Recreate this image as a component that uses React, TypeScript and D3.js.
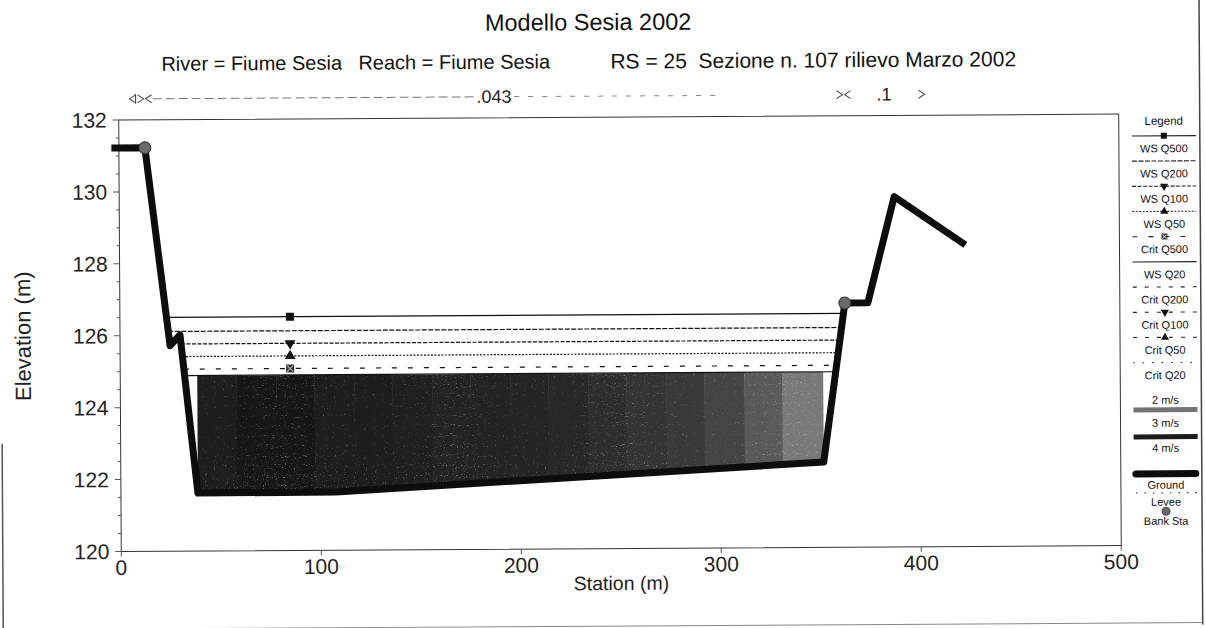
import React from "react";
import * as d3 from "d3";

// ---------- data ----------
const groundStation = [-2, 13, 25, 30, 38.5, 107.5, 351.5, 362.5, 374, 387.5, 421.5];
const groundElev = [131.22, 131.22, 125.72, 126.01, 121.61, 121.62, 122.37, 126.79, 126.79, 129.74, 128.44];
const bankStations = [13, 362.5];
const bankElev = [131.22, 126.79];

const profileNames = ["WS Q500", "WS Q200", "WS Q100", "WS Q50", "Crit Q500", "WS Q20"];
const profileElev = [126.5, 126.11, 125.76, 125.41, 125.06, 124.88];
const markerStation = 85;

const velStations = [28, 38.5, 58, 78, 97, 117, 136, 156, 175, 195, 214, 234, 253, 273, 292, 312, 331, 351.5, 360];
const velValues = [1.5, 3.6, 3.7, 3.7, 3.6, 3.6, 3.55, 3.5, 3.5, 3.45, 3.4, 3.3, 3.2, 3.1, 2.95, 2.75, 2.45, 1.5];

const nStations = [0, 13, 362.5, 403];
const nValues = ["", ".043", ".1"];

const xTicks = [0, 100, 200, 300, 400, 500];
const yTicks = [120, 122, 124, 126, 128, 130, 132];

const legendNames = ["WS Q500", "WS Q200", "WS Q100", "WS Q50", "Crit Q500", "WS Q20", "Crit Q200", "Crit Q100", "Crit Q50", "Crit Q20"];
const velLegendLabels = ["2 m/s", "3 m/s", "4 m/s"];

// ---------- styles ----------
const lineStyle: Record<string, { dash: string; marker: string | null }> = {
  "WS Q500": { dash: "", marker: "square" },
  "WS Q200": { dash: "5 1.5", marker: null },
  "WS Q100": { dash: "4 1.5", marker: "triDown" },
  "WS Q50": { dash: "2 1.5", marker: "tri" },
  "Crit Q500": { dash: "5 11", marker: "hatch" },
  "WS Q20": { dash: "", marker: null },
  "Crit Q200": { dash: "4 8", marker: null },
  "Crit Q100": { dash: "4 8", marker: "triDown" },
  "Crit Q50": { dash: "4 8", marker: "tri" },
  "Crit Q20": { dash: "1.5 8", marker: null },
};

const W = 1205, H = 628;
const PL = 120, PR = 1120, PT = 117, PB = 548.5;
const FONT = "'Liberation Sans', Arial, sans-serif";

const xs = d3.scaleLinear().domain([0, 500]).range([PL, PR]);
const ys = d3.scaleLinear().domain([120, 132]).range([PB, PT]);
const velColor = d3.scaleLinear<string>().domain([2, 3, 4]).range(["#a8a8a8", "#404040", "#050505"]);

function waterExtent(e: number): [number, number] {
  const n = groundElev.length;
  const t = groundElev.indexOf(d3.min(groundElev) as number);
  let left = groundStation[0], right = groundStation[n - 1];
  for (let i = t; i > 0; i--) {
    if (groundElev[i - 1] >= e) {
      const s0 = groundStation[i - 1], s1 = groundStation[i], e0 = groundElev[i - 1], e1 = groundElev[i];
      left = s0 + ((e0 - e) / (e0 - e1)) * (s1 - s0);
      break;
    }
  }
  for (let i = t; i < n - 1; i++) {
    if (groundElev[i + 1] >= e) {
      const s0 = groundStation[i], s1 = groundStation[i + 1], e0 = groundElev[i], e1 = groundElev[i + 1];
      right = s0 + ((e - e0) / (e1 - e0)) * (s1 - s0);
      break;
    }
  }
  return [left, right];
}

function Marker({ kind, x, y, s }: { kind: string | null; x: number; y: number; s: number }) {
  if (!kind) return null;
  if (kind === "square") return <path d={d3.symbol(d3.symbolSquare, s * s)() as string} transform={`translate(${x},${y})`} fill="#111" />;
  if (kind === "tri") return <path d={d3.symbol(d3.symbolTriangle, s * s * 0.8)() as string} transform={`translate(${x},${y})`} fill="#111" />;
  if (kind === "triDown") return <path d={d3.symbol(d3.symbolTriangle, s * s * 0.8)() as string} transform={`translate(${x},${y}) rotate(180)`} fill="#111" />;
  if (kind === "hatch")
    return (
      <g transform={`translate(${x},${y})`}>
        <rect x={-s / 2} y={-s / 2} width={s} height={s} fill="#333" />
        <path d={`M${-s / 2 + 1},${-s / 2 + 1}L${s / 2 - 1},${s / 2 - 1}M${s / 2 - 1},${-s / 2 + 1}L${-s / 2 + 1},${s / 2 - 1}`} stroke="#bbb" strokeWidth={1} />
      </g>
    );
  return null;
}

export default function App() {
  const groundPts: [number, number][] = groundStation.map((s, i) => [xs(s), ys(groundElev[i])]);
  const groundPath = d3.line()(groundPts) as string;

  const wsQ20 = profileElev[profileNames.indexOf("WS Q20")];
  const [wl, wr] = waterExtent(wsQ20);
  const waterPts: [number, number][] = [[xs(wl), ys(wsQ20)], [xs(wr), ys(wsQ20)]];
  for (let i = groundStation.length - 1; i >= 0; i--) {
    if (groundStation[i] > wl && groundStation[i] < wr) waterPts.push([xs(groundStation[i]), ys(groundElev[i])]);
  }
  const waterPath = (d3.line()(waterPts) as string) + "Z";

  const minY = ys(d3.min(groundElev) as number) + 4;

  const nY = 96;
  const chev = (x: number, dir: number) => `M${x - dir * 6},${nY - 4}L${x},${nY}L${x - dir * 6},${nY + 4}`;
  const pre = { whiteSpace: "pre" as const };

  return (
    <svg width={W} height={H} style={{ position: "absolute", left: 0, top: 0 }} fontFamily={FONT}>
      <defs>
        <clipPath id="waterClip">
          <path d={waterPath} />
        </clipPath>
        <filter id="speck" x="0" y="0" width="1" height="1">
          <feTurbulence type="fractalNoise" baseFrequency="0.9" numOctaves="1" seed="4" result="noise" />
          <feColorMatrix in="noise" type="matrix" values="0 0 0 0 1  0 0 0 0 1  0 0 0 0 1  0 0 0 4 -2.25" />
        </filter>
      </defs>
      <rect width={W} height={H} fill="#fff" />
      <g transform="rotate(-0.34 620 335)">
        {/* page edges */}
        <line x1={1201} x2={1201} y1={0} y2={H} stroke="#444" strokeWidth={1.5} />
        <line x1={0} x2={1201} y1={626} y2={626} stroke="#888" strokeWidth={1} />
        <line x1={1.5} x2={1.5} y1={440} y2={H} stroke="#555" strokeWidth={1.5} />

        {/* titles */}
        <text x={590} y={22} textAnchor="middle" dominantBaseline="central" fontSize={23.5} fill="#111">Modello Sesia 2002</text>
        <text x={163} y={61} dominantBaseline="central" fontSize={20} fill="#111" style={pre}>River = Fiume Sesia</text>
        <text x={360} y={61} dominantBaseline="central" fontSize={20} fill="#111" style={pre}>Reach = Fiume Sesia</text>
        <text x={612} y={61} dominantBaseline="central" fontSize={21} fill="#111" style={pre}>RS = 25  Sezione n. 107 rilievo Marzo 2002</text>

        {/* manning n row */}
        <line x1={xs(nStations[1] + 4)} x2={xs((nStations[1] + nStations[2]) / 2 - 10)} y1={nY} y2={nY} stroke="#777" strokeDasharray="9 4" />
        <line x1={xs((nStations[1] + nStations[2]) / 2 + 10)} x2={xs(300)} y1={nY} y2={nY} stroke="#888" strokeDasharray="5 9" />
        <path d={`M${xs(nStations[0]) + 17},${nY - 5}L${xs(nStations[0]) + 17},${nY + 5}`} stroke="#444" />
        <path d={chev(xs(nStations[0]) + 11, -1)} stroke="#444" fill="none" />
        {nStations.slice(1, -1).map((s, i) => (
          <g key={i}>
            <path d={chev(xs(s) - 1, 1)} stroke="#444" fill="none" />
            <path d={chev(xs(s) + 1, -1)} stroke="#444" fill="none" />
          </g>
        ))}
        <path d={chev(xs(nStations[nStations.length - 1]), 1)} stroke="#444" fill="none" />
        {nValues.map((v, i) =>
          v ? (
            <text key={i} x={xs((nStations[i] + nStations[i + 1]) / 2)} y={nY} textAnchor="middle" dominantBaseline="central" fontSize={18} fill="#222">{v}</text>
          ) : null
        )}

        {/* plot frame */}
        <rect x={PL} y={PT} width={PR - PL} height={PB - PT} fill="none" stroke="#333" strokeWidth={1} />

        {/* axes */}
        {d3.range(120, 132.01, 0.5).map((v) => (
          <line key={"m" + v} x1={PL - (v % 2 === 0 ? 6 : 3)} x2={PL} y1={ys(v)} y2={ys(v)} stroke="#555" strokeWidth={1} />
        ))}
        {yTicks.map((v) => (
          <text key={v} x={PL - 12} y={ys(v)} textAnchor="end" dominantBaseline="central" fontSize={21} fill="#222">{v}</text>
        ))}
        {xTicks.map((v) => (
          <g key={v}>
            <line x1={xs(v)} x2={xs(v)} y1={PB} y2={PB + 5} stroke="#555" />
            <text x={xs(v)} y={PB + 16} textAnchor="middle" dominantBaseline="central" fontSize={21} fill="#222">{v}</text>
          </g>
        ))}
        <text x={(PL + PR) / 2} y={583} textAnchor="middle" dominantBaseline="central" fontSize={19.5} fill="#222">Station (m)</text>
        <text transform={`translate(23,${(PT + PB) / 2}) rotate(-90)`} textAnchor="middle" dominantBaseline="central" fontSize={22} fill="#222">Elevation (m)</text>

        {/* velocity distribution */}
        <g clipPath="url(#waterClip)">
          {velValues.map((v, i) => (
            <rect key={i} x={xs(velStations[i])} y={ys(wsQ20)} width={xs(velStations[i + 1]) - xs(velStations[i]) + 0.5} height={minY - ys(wsQ20)} fill={v < 2 ? "#fff" : velColor(v)} />
          ))}
          <rect x={xs(velStations[1])} y={ys(wsQ20)} width={xs(velStations[velStations.length - 2]) - xs(velStations[1])} height={minY - ys(wsQ20)} filter="url(#speck)" opacity={0.55} />
        </g>

        {/* water surface lines */}
        {profileNames.map((name, i) => {
          const [l, r] = waterExtent(profileElev[i]);
          const st = lineStyle[name];
          return (
            <g key={name}>
              <line x1={xs(l)} x2={xs(r)} y1={ys(profileElev[i])} y2={ys(profileElev[i])} stroke="#111" strokeWidth={1.2} strokeDasharray={st.dash || undefined} />
              <Marker kind={st.marker} x={xs(markerStation)} y={ys(profileElev[i])} s={8} />
            </g>
          );
        })}

        {/* ground */}
        <path d={groundPath} fill="none" stroke="#0d0d0d" strokeWidth={7} strokeLinejoin="round" strokeLinecap="square" />
        {bankStations.map((s, i) => (
          <circle key={i} cx={xs(s)} cy={ys(bankElev[i])} r={6} fill="#6a6a6a" stroke="#333" strokeWidth={1} />
        ))}

        {/* legend */}
        <text x={1165} y={124} textAnchor="middle" dominantBaseline="central" fontSize={11.5} fill="#111">Legend</text>
        {legendNames.map((name, i) => {
          const sy = 139 + i * 25.2;
          const st = lineStyle[name];
          return (
            <g key={name}>
              <line x1={1133} x2={1197} y1={sy} y2={sy} stroke="#222" strokeWidth={1.1} strokeDasharray={st.dash || undefined} />
              <Marker kind={st.marker} x={1165} y={sy} s={6} />
              <text x={1165} y={sy + 12.5} textAnchor="middle" dominantBaseline="central" fontSize={11} fill="#111">{name}</text>
            </g>
          );
        })}
        {velLegendLabels.map((t, i) => (
          <text key={t} x={1165} y={[403, 426, 451][i]} textAnchor="middle" dominantBaseline="central" fontSize={11} fill="#111">{t}</text>
        ))}
        <rect x={1133} y={410.5} width={64} height={5} fill={velColor(2.5)} />
        <rect x={1133} y={437.5} width={64} height={5} fill={velColor(3.6)} />
        <line x1={1135} x2={1195} y1={477} y2={477} stroke="#0d0d0d" strokeWidth={7} strokeLinecap="round" />
        <text x={1165} y={488} textAnchor="middle" dominantBaseline="central" fontSize={11} fill="#111">Ground</text>
        <line x1={1135} x2={1197} y1={496} y2={496} stroke="#444" strokeWidth={1.2} strokeDasharray="1.5 7" />
        <text x={1165} y={505} textAnchor="middle" dominantBaseline="central" fontSize={11} fill="#111">Levee</text>
        <circle cx={1165} cy={514.5} r={4} fill="#6a6a6a" stroke="#333" strokeWidth={0.8} />
        <text x={1165} y={524} textAnchor="middle" dominantBaseline="central" fontSize={11} fill="#111">Bank Sta</text>
      </g>
    </svg>
  );
}
